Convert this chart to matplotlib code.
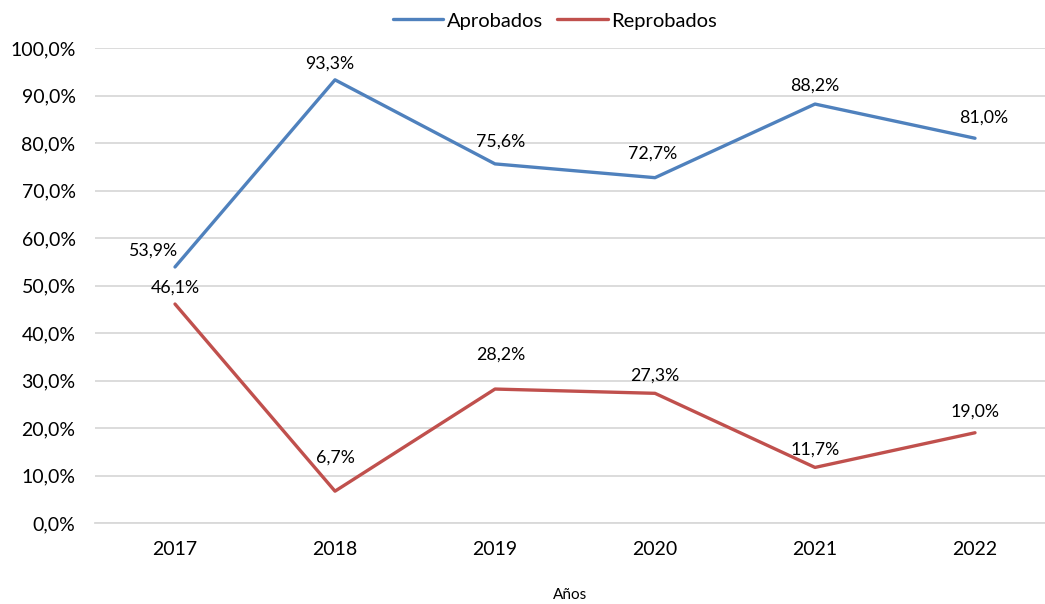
import matplotlib.pyplot as plt
from matplotlib.ticker import FuncFormatter

plt.rcParams['font.family'] = ['Lato', 'DejaVu Sans']

anios = ['2017', '2018', '2019', '2020', '2021', '2022']
aprobados = [53.9, 93.3, 75.6, 72.7, 88.2, 81.0]
reprobados = [46.1, 6.7, 28.2, 27.3, 11.7, 19.0]

# label offsets in points (dx, dy)
off_apr = [(-16, 12), (-4, 12), (4, 16), (-2, 17), (0, 13), (6, 15)]
off_rep = [(0, 12), (0, 24), (4, 25), (0, 13), (0, 13), (0, 15)]

fig = plt.figure(figsize=(10.45, 6.04), dpi=100)
ax = fig.add_axes([95/1045, 1 - 523/604, 960/1045, 475/604])

x = list(range(len(anios)))
ax.plot(x, aprobados, color='#4F81BD', lw=2.4, label='Aprobados', solid_capstyle='round')
ax.plot(x, reprobados, color='#C0504D', lw=2.4, label='Reprobados', solid_capstyle='round')

def fmt(v):
    return f'{v:.1f}%'.replace('.', ',')

for i, v in enumerate(aprobados):
    ax.annotate(fmt(v), (i, v), xytext=off_apr[i], textcoords='offset points',
                ha='center', va='center', fontsize=12.8, color='#000000')
for i, v in enumerate(reprobados):
    ax.annotate(fmt(v), (i, v), xytext=off_rep[i], textcoords='offset points',
                ha='center', va='center', fontsize=12.8, color='#000000')

ax.set_xlim(-0.5, 5.5)
ax.set_ylim(0, 100)
ax.set_yticks(range(0, 101, 10))
ax.yaxis.set_major_formatter(FuncFormatter(lambda v, p: fmt(v)))
ax.set_xticks(x)
ax.set_xticklabels(anios)
ax.grid(axis='y', color='#D9D9D9', lw=1.3)
ax.set_axisbelow(True)
for s in ['top', 'right', 'left']:
    ax.spines[s].set_visible(False)
ax.spines['bottom'].set_color('#D9D9D9')
ax.spines['bottom'].set_linewidth(1.3)
ax.tick_params(axis='both', length=0, labelsize=14, colors='#000000')
ax.tick_params(axis='y', pad=14)
ax.tick_params(axis='x', pad=13)

fig.text(570/1045, 1 - 595/604, 'Años', ha='center', va='center', fontsize=11)
fig.legend(loc='center', bbox_to_anchor=(555/1045, 1 - 21/604), ncol=2, frameon=False,
           fontsize=14.5, handlelength=2.5, columnspacing=0.7, handletextpad=0.2)

fig.savefig('out.png', dpi=100)
